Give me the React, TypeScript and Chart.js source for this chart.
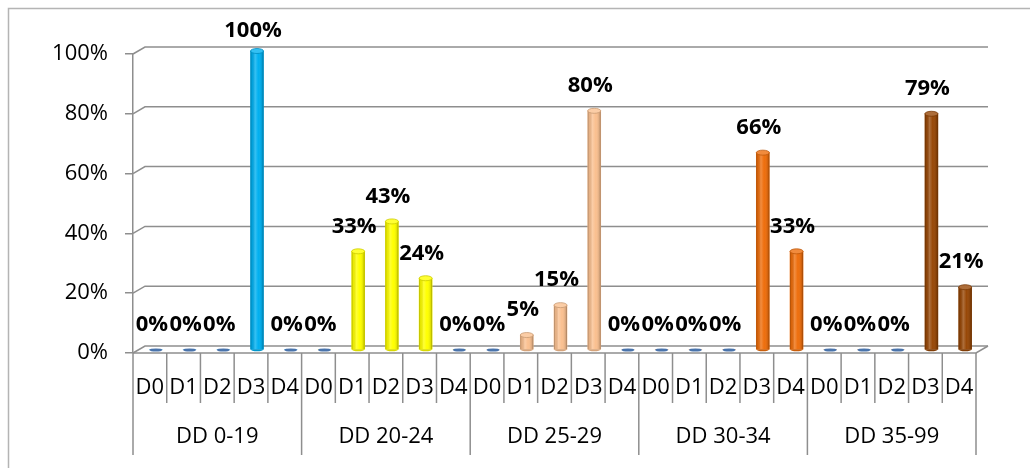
import React, { useEffect, useRef } from "react";
import { Chart, registerables } from "chart.js";

Chart.register(...registerables);

// ---- data ----
const groups = ["DD 0-19", "DD 20-24", "DD 25-29", "DD 30-34", "DD 35-99"];
const subCats = ["D0", "D1", "D2", "D3", "D4"];
const dd0_19 = [0, 0, 0, 100, 0];
const dd20_24 = [0, 33, 43, 24, 0];
const dd25_29 = [0, 5, 15, 80, 0];
const dd30_34 = [0, 0, 0, 66, 33];
const dd35_99 = [0, 0, 0, 79, 21];
const groupColors = ["#00B0F0", "#FFFF00", "#FAC090", "#EE6E0C", "#984807"];
const yTickLabels = ["0%", "20%", "40%", "60%", "80%", "100%"];

const groupValues = [dd0_19, dd20_24, dd25_29, dd30_34, dd35_99];
const labels = groups.flatMap((g) => subCats.map((s) => `${g} ${s}`));
const values = groupValues.flat();
const barColors = groups.flatMap((_, gi) => subCats.map(() => groupColors[gi]));

// ---- style constants ----
const LINE = "#8e8e8e";
const DX = 12;
const DY = 7;
const BAR_DX = 6;
const BAR_DY = -3;
const FONT = "'Open Sans', Lato, sans-serif";

function shade(hex: string, amt: number): string {
  const n = parseInt(hex.slice(1), 16);
  let r = (n >> 16) & 255,
    g = (n >> 8) & 255,
    b = n & 255;
  if (amt >= 0) {
    r = Math.round(r + (255 - r) * amt);
    g = Math.round(g + (255 - g) * amt);
    b = Math.round(b + (255 - b) * amt);
  } else {
    r = Math.round(r * (1 + amt));
    g = Math.round(g * (1 + amt));
    b = Math.round(b * (1 + amt));
  }
  return `rgb(${r},${g},${b})`;
}

const excel3d = {
  id: "excel3d",
  beforeDraw(chart: any) {
    const ctx = chart.ctx;
    ctx.save();
    ctx.fillStyle = "#ffffff";
    ctx.fillRect(0, 0, chart.width, chart.height);
    // outer chart border (cut at right/bottom)
    ctx.strokeStyle = "#b4b4b4";
    ctx.lineWidth = 1.5;
    ctx.beginPath();
    ctx.moveTo(8.5, chart.height);
    ctx.lineTo(8.5, 8.5);
    ctx.lineTo(chart.width, 8.5);
    ctx.stroke();
    ctx.restore();
  },
  beforeDatasetsDraw(chart: any) {
    const ctx = chart.ctx;
    const y = chart.scales.y;
    const { left, right, bottom } = chart.chartArea;
    ctx.save();
    ctx.strokeStyle = LINE;
    ctx.lineWidth = 1.5;
    // back-wall gridlines + diagonals from front ticks
    y.ticks.forEach((t: any) => {
      const yf = y.getPixelForValue(t.value);
      const yb = yf - DY;
      ctx.beginPath();
      ctx.moveTo(left, yf);
      ctx.lineTo(left + DX, yb);
      ctx.lineTo(right + DX, yb);
      ctx.stroke();
    });
    // floor front edge and right side
    ctx.beginPath();
    ctx.moveTo(left, bottom);
    ctx.lineTo(right, bottom);
    ctx.lineTo(right + DX, bottom - DY);
    ctx.stroke();
    ctx.restore();

    ctx.save();
    ctx.translate(BAR_DX, BAR_DY);
  },
  afterDatasetsDraw(chart: any) {
    const ctx = chart.ctx;
    const meta = chart.getDatasetMeta(0);
    // cylinder shading (still translated)
    meta.data.forEach((el: any, i: number) => {
      const v = values[i];
      const col = barColors[i];
      if (v === 0) {
        ctx.fillStyle = "#4A74AC";
        ctx.beginPath();
        ctx.ellipse(el.x, el.base, 6.5, 1.6, 0, 0, Math.PI * 2);
        ctx.fill();
        return;
      }
      const w = el.width;
      const l = el.x - w / 2;
      const top = el.y;
      const base = el.base;
      const g = ctx.createLinearGradient(l, 0, l + w, 0);
      g.addColorStop(0, "rgba(0,0,0,0.30)");
      g.addColorStop(0.12, "rgba(0,0,0,0.08)");
      g.addColorStop(0.35, "rgba(255,255,255,0.22)");
      g.addColorStop(0.6, "rgba(255,255,255,0.0)");
      g.addColorStop(0.88, "rgba(0,0,0,0.12)");
      g.addColorStop(1, "rgba(0,0,0,0.35)");
      ctx.fillStyle = g;
      ctx.fillRect(l, top, w, base - top);
      // bottom rounding
      ctx.fillStyle = shade(col, -0.15);
      ctx.beginPath();
      ctx.ellipse(el.x, base, w / 2, 2, 0, 0, Math.PI);
      ctx.fill();
      // top cap
      ctx.fillStyle = shade(col, 0.2);
      ctx.strokeStyle = shade(col, -0.2);
      ctx.lineWidth = 0.8;
      ctx.beginPath();
      ctx.ellipse(el.x, top, w / 2, 2.5, 0, 0, Math.PI * 2);
      ctx.fill();
      ctx.stroke();
    });
    ctx.restore();

    // data labels
    ctx.save();
    ctx.fillStyle = "#000";
    ctx.font = `bold 22px ${FONT}`;
    ctx.textAlign = "center";
    ctx.textBaseline = "middle";
    meta.data.forEach((el: any, i: number) => {
      const cy = Math.max(el.y - 28, 31);
      ctx.fillText(`${values[i]}%`, el.x + 2, cy);
    });
    ctx.restore();

    // two-level category table
    const xs = chart.scales.x;
    const { left, right, bottom } = chart.chartArea;
    const band = (right - left) / labels.length;
    ctx.save();
    ctx.strokeStyle = LINE;
    ctx.lineWidth = 1.5;
    for (let i = 0; i <= labels.length; i++) {
      const x = left + i * band;
      const isGroup = i % subCats.length === 0;
      ctx.beginPath();
      ctx.moveTo(x, bottom);
      ctx.lineTo(x, isGroup ? 455 : 403);
      ctx.stroke();
    }
    ctx.fillStyle = "#000";
    ctx.font = `22px ${FONT}`;
    ctx.textAlign = "center";
    ctx.textBaseline = "middle";
    labels.forEach((_, i) => {
      ctx.fillText(subCats[i % subCats.length], xs.getPixelForValue(i), 388);
    });
    groups.forEach((g, gi) => {
      const a = xs.getPixelForValue(gi * subCats.length);
      const b = xs.getPixelForValue(gi * subCats.length + subCats.length - 1);
      ctx.fillText(g, (a + b) / 2, 437);
    });
    ctx.restore();
  },
};

export default function App() {
  const ref = useRef<HTMLCanvasElement | null>(null);
  useEffect(() => {
    if (!ref.current) return;
    const chart = new Chart(ref.current, {
      type: "bar",
      data: {
        labels,
        datasets: [
          {
            data: values,
            backgroundColor: barColors,
            borderWidth: 0,
            barThickness: 13,
          },
        ],
      },
      options: {
        responsive: false,
        animation: false,
        devicePixelRatio: 1,
        layout: { padding: { left: 0, right: 54, top: 54, bottom: 115 } },
        plugins: { legend: { display: false }, tooltip: { enabled: false } },
        scales: {
          x: { display: false },
          y: {
            min: 0,
            max: 100,
            ticks: {
              stepSize: 20,
              callback: (v: any) => yTickLabels[Math.round(Number(v) / 20)],
              font: { family: FONT, size: 22 },
              color: "#000",
              padding: 17,
            },
            grid: {
              drawOnChartArea: false,
              drawTicks: true,
              tickLength: 8,
              color: LINE,
              lineWidth: 1.5,
            },
            border: { display: true, color: LINE, width: 1.5 },
            afterFit: (s: any) => {
              s.width = 133;
            },
          },
        },
      },
      plugins: [excel3d],
    });
    return () => chart.destroy();
  }, []);
  return (
    <div style={{ position: "fixed", left: 0, top: 0, width: 1030, height: 468, background: "#fff" }}>
      <canvas ref={ref} width={1030} height={468} style={{ display: "block" }} />
    </div>
  );
}
